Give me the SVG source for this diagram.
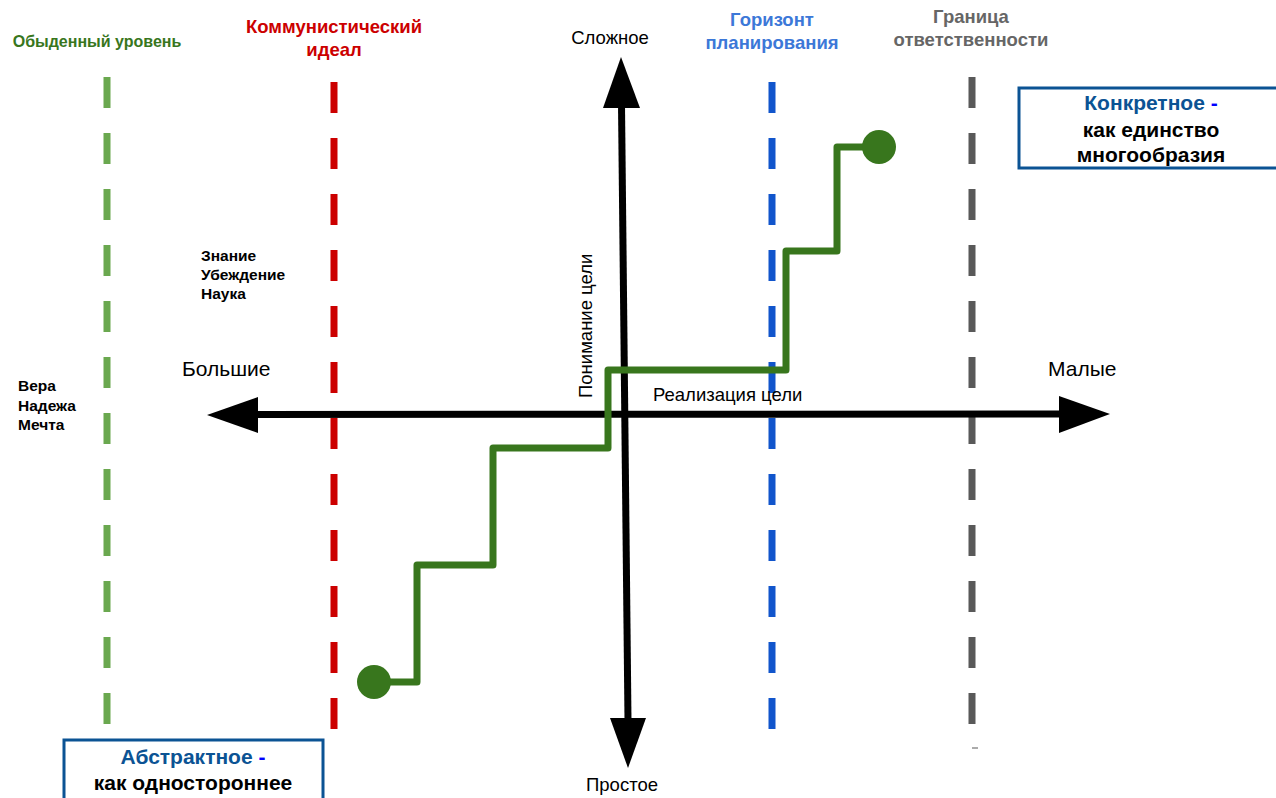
<svg xmlns="http://www.w3.org/2000/svg" width="1276" height="798" viewBox="0 0 1276 798">
<style>
text{font-family:"Liberation Sans",Arial,sans-serif}
.b{font-weight:bold}
.dash{fill:none;stroke-width:7;stroke-dasharray:31 25}
.axis{stroke:#000;stroke-width:7;fill:none}
.head{fill:#000}
.stair{fill:none;stroke:#38761d;stroke-width:7;stroke-linejoin:round}
.dot{fill:#38761d}
.box{fill:#fff;stroke:#0b5394;stroke-width:3}
.lbl{font-size:18.5px;fill:#000}
.sm{font-size:15.5px;font-weight:bold;fill:#000}
</style>
<rect width="1276" height="798" fill="#fff"/>
<g id="guides">
<line class="dash" x1="107" y1="77" x2="107" y2="725" stroke="#6aa84f"/>
<line class="dash" x1="334" y1="82" x2="334" y2="729" stroke="#cc0000"/>
<line class="dash" x1="772" y1="82" x2="772" y2="729" stroke="#1155cc"/>
<line class="dash" x1="972" y1="77" x2="972" y2="725" stroke="#595959"/>
<line x1="972" y1="748" x2="978" y2="748" stroke="#595959" stroke-width="1"/>
</g>
<g id="connectors">
<line class="axis" x1="258" y1="414.5" x2="1060" y2="414"/>
<polygon class="head" points="207,415 258,397 258,433"/>
<polygon class="head" points="1110,414 1059,396 1059,433"/>
<line class="axis" x1="621.5" y1="105" x2="628" y2="720"/>
<polygon class="head" points="621,57 603,108 640,108"/>
<polygon class="head" points="628,768 610,718 646,718"/>
<polyline class="stair" points="374,682 417,682 417,565 493,565 493,448 608,448 608,370 786,370 786,251 837,251 837,147 879,147"/>
<circle class="dot" cx="374" cy="682" r="17"/>
<circle class="dot" cx="879" cy="147" r="17"/>
</g>
<g id="title-everyday"><text class="b" x="97" y="47" font-size="16" fill="#38761d" text-anchor="middle">Обыденный уровень</text></g>
<g id="title-communist"><text class="b" font-size="18.5" fill="#cc0000" text-anchor="middle"><tspan x="334" y="33">Коммунистический</tspan><tspan x="334" y="56">идеал</tspan></text></g>
<g id="title-complex"><text class="lbl" x="610" y="44" text-anchor="middle">Сложное</text></g>
<g id="title-horizon"><text class="b" font-size="18.5" fill="#3c78d8" text-anchor="middle"><tspan x="772" y="26">Горизонт</tspan><tspan x="772" y="49">планирования</tspan></text></g>
<g id="title-border"><text class="b" font-size="18.5" fill="#666" text-anchor="middle"><tspan x="971" y="23">Граница</tspan><tspan x="971" y="46">ответственности</tspan></text></g>
<g id="box-concrete">
<rect class="box" x="1019" y="88" width="270" height="80"/>
<text class="b" font-size="21" text-anchor="middle"><tspan x="1151" y="110" fill="#0b5394">Конкретное <tspan fill="#0000ff">-</tspan></tspan><tspan x="1151" y="137" fill="#000">как единство</tspan><tspan x="1151" y="162" fill="#000">многообразия</tspan></text>
</g>
<g id="knowledge"><text class="sm"><tspan x="201" y="261">Знание</tspan><tspan x="201" y="280">Убеждение</tspan><tspan x="201" y="299">Наука</tspan></text></g>
<g id="faith"><text class="sm"><tspan x="18" y="391">Вера</tspan><tspan x="18" y="411">Надежа</tspan><tspan x="18" y="430">Мечта</tspan></text></g>
<g id="big"><text x="182" y="376" font-size="21">Большие</text></g>
<g id="small"><text x="1048" y="376" font-size="21">Малые</text></g>
<g id="understanding"><text class="lbl" transform="translate(592,398) rotate(-90)">Понимание цели</text></g>
<g id="realization"><text class="lbl" x="653" y="401">Реализация цели</text></g>
<g id="simple"><text class="lbl" x="622" y="791" text-anchor="middle">Простое</text></g>
<g id="box-abstract">
<rect class="box" x="64" y="740" width="259" height="70"/>
<text class="b" font-size="21" text-anchor="middle"><tspan x="193" y="764" fill="#0b5394">Абстрактное <tspan fill="#0000ff">-</tspan></tspan><tspan x="193" y="790" fill="#000">как одностороннее</tspan></text>
</g>
</svg>
